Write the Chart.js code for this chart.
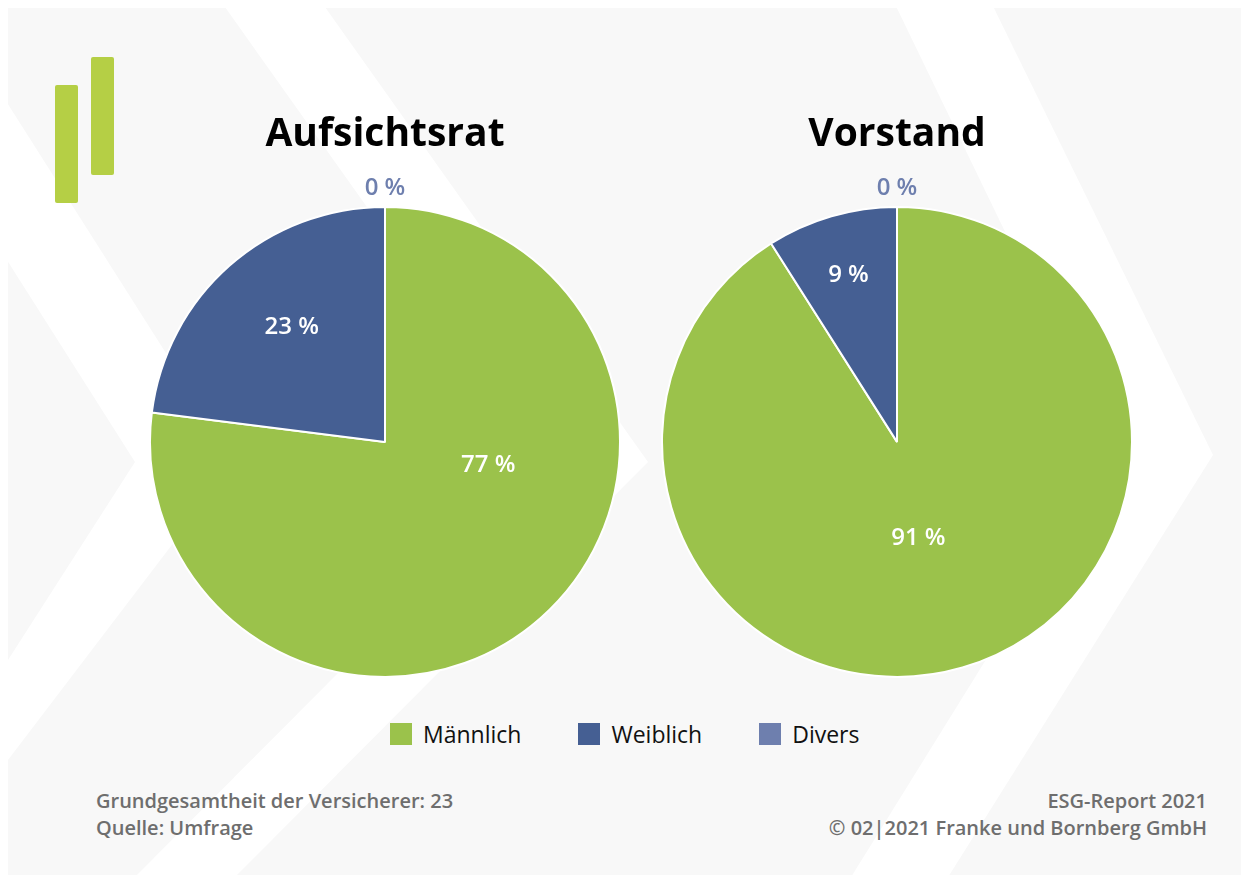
<!DOCTYPE html>
<html>
<head>
<meta charset="utf-8">
<script src="https://cdn.jsdelivr.net/npm/chart.js@4/dist/chart.umd.min.js"></script>
<style>
  html, body { margin: 0; padding: 0; background: #fff; }
  body { width: 1249px; height: 882px; position: relative; overflow: hidden; font-family: "Open Sans", sans-serif; }
  #bg { position: absolute; left: 8px; top: 8px; width: 1233px; height: 867px; background: #f8f8f8; overflow: hidden; }
  #bg svg { position: absolute; left: -8px; top: -8px; }
  .bar { position: absolute; width: 23px; background: #b5cf45; border-radius: 2px; }
  .pie { position: absolute; top: 100px; width: 500px; height: 580px; }
  #legend { position: absolute; top: 720px; left: 390px; display: flex; gap: 57px; font-size: 23px; font-weight: 500; color: #111; }
  #legend .item { display: flex; align-items: center; height: 28px; }
  #legend .box { width: 22px; height: 22px; margin-right: 11px; }
  .foot { position: absolute; top: 787px; font-size: 20px; font-weight: 600; color: #6e6e6e; line-height: 27px; }
</style>
</head>
<body>
<div id="bg">
  <svg width="1249" height="882">
    <polygon fill="#fff" points="220,0 320,0 648,462 230,882 130,882 548,462" />
    <polygon fill="#fff" points="893,0 990,0 1213,455 945,882 848,882 1113,455" />
    <polygon fill="#fff" points="-120,60 -20,60 235,462 8,760 8,660 135,462" />
  </svg>
</div>
<div class="bar" style="left:55px; top:85px; height:118px;"></div>
<div class="bar" style="left:91px; top:57px; height:118px;"></div>

<div class="pie" style="left:135px;"><canvas id="pieLeft"></canvas></div>
<div class="pie" style="left:647px;"><canvas id="pieRight"></canvas></div>

<div id="legend"></div>

<div class="foot" style="left:96px;">Grundgesamtheit der Versicherer: 23<br>Quelle: Umfrage</div>
<div class="foot" style="right:42px; text-align:right;">ESG-Report 2021<br>© 02|2021 Franke und Bornberg GmbH</div>

<script>
// categories and values (percent)
const categories = ['Männlich', 'Weiblich', 'Divers'];
const aufsichtsrat = [77, 23, 0];
const vorstand = [91, 9, 0];
const colors = ['#9bc24b', '#455f93', '#6e7fae'];

// label placement per slice: [radius fraction, angle shift in degrees]
const leftLabelPos = [[0.45, -36], [0.63, 2.4], [1.08, 0]];
const rightLabelPos = [[0.42, 3.7], [0.74, 0], [1.08, 0]];

const pctLabels = {
  id: 'pctLabels',
  afterDatasetsDraw(chart, args, opts) {
    const ctx = chart.ctx;
    const meta = chart.getDatasetMeta(0);
    const values = chart.data.datasets[0].data;
    ctx.save();
    ctx.font = '600 24px "Open Sans"';
    ctx.textAlign = 'center';
    ctx.textBaseline = 'middle';
    meta.data.forEach((arc, i) => {
      const p = opts.pos[i];
      const a = (arc.startAngle + arc.endAngle) / 2 + p[1] * Math.PI / 180;
      const r = arc.outerRadius * p[0];
      ctx.fillStyle = values[i] === 0 ? colors[2] : '#ffffff';
      ctx.fillText(values[i] + ' %', arc.x + r * Math.cos(a), arc.y + r * Math.sin(a));
    });
    ctx.restore();
  }
};

function makePie(id, title, values, pos) {
  return new Chart(document.getElementById(id), {
    type: 'pie',
    data: {
      labels: categories,
      datasets: [{ data: values, backgroundColor: colors, borderColor: '#ffffff', borderWidth: 2 }]
    },
    options: {
      responsive: true,
      maintainAspectRatio: false,
      animation: false,
      layout: { padding: { left: 14, right: 14, bottom: 2, top: 0 } },
      plugins: {
        legend: { display: false },
        tooltip: { enabled: false },
        title: {
          display: true,
          text: title,
          color: '#000',
          font: { family: 'Open Sans', size: 39, weight: 'bold', lineHeight: 1.2 },
          padding: { top: 11, bottom: 48 }
        },
        pctLabels: { pos: pos }
      }
    },
    plugins: [pctLabels]
  });
}

window.onload = function() {
  makePie('pieLeft', 'Aufsichtsrat', aufsichtsrat, leftLabelPos);
  makePie('pieRight', 'Vorstand', vorstand, rightLabelPos);

  const legend = document.getElementById('legend');
  categories.forEach((c, i) => {
    const item = document.createElement('div');
    item.className = 'item';
    item.innerHTML = '<span class="box" style="background:' + colors[i] + '"></span>' + c;
    legend.appendChild(item);
  });
};
</script>
</body>
</html>
